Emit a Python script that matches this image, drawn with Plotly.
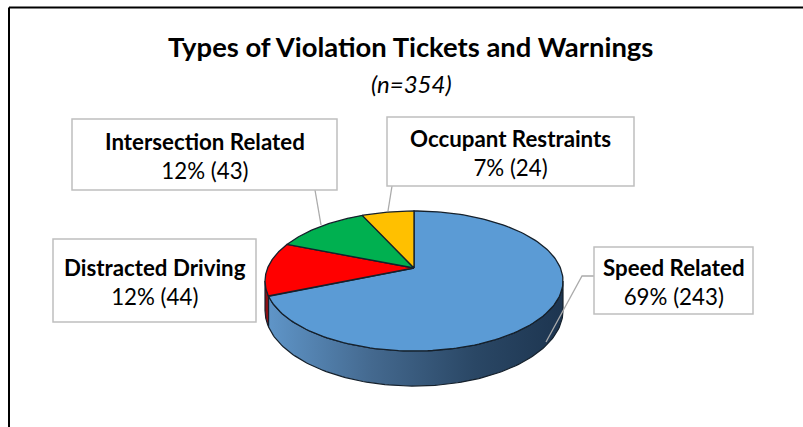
import numpy as np
import plotly.graph_objects as go

categories = ["Speed Related", "Distracted Driving", "Intersection Related", "Occupant Restraints"]
counts = [243, 44, 43, 24]
percents = ["69%", "12%", "12%", "7%"]
colors = ["#5B9BD5", "#FF0000", "#00B050", "#FFC000"]
title_text = "Types of Violation Tickets and Warnings"
subtitle_text = "(n=354)"

# label boxes: x0, y0, x1, y1 in chart pixels, same order as categories
boxes = [(594, 247, 753, 314), (53, 239, 256, 322), (72, 119, 337, 190), (387, 117, 634, 186)]
leaders = [[(594, 276), (582, 276), (546, 342)], None, [(315, 190), (321, 225)], [(392, 186), (388, 211)]]

# tilted-disc projection (pixels)
CX, CY, A, B, K, DEPTH = 414.0, 268.0, 67.6, 146.4, 0.186, 28.5
FONT = "Lato"
DARK = "#15202b"


def top(t):
    s, c = np.sin(t), np.cos(t)
    w = 1 + K * c
    return CX + B * s / w, CY - A * c / w


def bottom(t):
    x, y = top(t)
    return x, y + DEPTH / (1 + K * np.cos(t))


edges = np.cumsum([0] + counts) / sum(counts) * 2 * np.pi
fig = go.Figure()

RIGHT = np.arccos(-K)
LEFT = 2 * np.pi - RIGHT


def side(t0, t1, **kw):
    t = np.linspace(t0, t1, 120)
    xa, ya = top(t)
    xb, yb = bottom(t[::-1])
    fig.add_trace(go.Scatter(x=np.r_[xa, xb, xa[0]], y=np.r_[ya, yb, ya[0]], mode="lines",
                             fill="toself", line=dict(color=DARK, width=1.2),
                             hoverinfo="skip", showlegend=False, **kw))


side(edges[1], LEFT, fillcolor="#8A0F14")
side(RIGHT, edges[1], fillgradient=dict(
    type="horizontal",
    colorscale=[[0, "#5F95C8"], [0.35, "#44698F"], [0.7, "#2A4765"], [1, "#1D3550"]]))

for i, (name, col) in enumerate(zip(categories, colors)):
    t = np.linspace(edges[i], edges[i + 1], 160)
    xs, ys = top(t)
    fig.add_trace(go.Scatter(x=np.r_[CX, xs, CX], y=np.r_[CY, ys, CY], mode="lines", fill="toself",
                             fillcolor=col, line=dict(color=DARK, width=1.3),
                             name=name, hoverinfo="skip", showlegend=False))

shapes = []
annos = []
for name, n, pct, b, lead in zip(categories, counts, percents, boxes, leaders):
    if lead:
        fig.add_trace(go.Scatter(x=[p[0] for p in lead], y=[p[1] for p in lead], mode="lines",
                                 line=dict(color="#ABABAB", width=1.3), hoverinfo="skip", showlegend=False))
    shapes.append(dict(type="rect", xref="x", yref="y", x0=b[0], y0=b[1], x1=b[2], y1=b[3],
                       fillcolor="white", line=dict(color="#BFBFBF", width=1.5), layer="above"))
    cx = (b[0] + b[2]) / 2
    cy = (b[1] + b[3]) / 2 + 1
    annos.append(dict(x=cx, y=cy, xref="x", yref="y", showarrow=False, align="center",
                      text=f"<b>{name}</b><br>{pct} ({n})",
                      font=dict(family=FONT, size=22.3, color="black")))

annos.append(dict(x=410.5, y=46, xref="x", yref="y", showarrow=False, text=f"<b>{title_text}</b>",
                  font=dict(family=FONT, size=27.4, color="black")))
annos.append(dict(x=411, y=83, xref="x", yref="y", showarrow=False, text=f"<i>{subtitle_text}</i>",
                  font=dict(family=FONT, size=24, color="black")))

# outer frame
shapes.append(dict(type="line", xref="x", yref="y", x0=9, y0=7.5, x1=803, y1=7.5, line=dict(color="black", width=2)))
shapes.append(dict(type="line", xref="x", yref="y", x0=9, y0=7.5, x1=9, y1=427, line=dict(color="black", width=2)))

fig.update_layout(
    width=803, height=427, margin=dict(l=0, r=0, t=0, b=0),
    paper_bgcolor="white", plot_bgcolor="white", showlegend=False,
    xaxis=dict(range=[0, 803], visible=False, fixedrange=True),
    yaxis=dict(range=[427, 0], visible=False, fixedrange=True),
    shapes=shapes, annotations=annos,
)
fig.write_html("out.html", config={"displayModeBar": False},
               post_script="document.body.style.margin='0';document.documentElement.style.overflow='hidden';")
